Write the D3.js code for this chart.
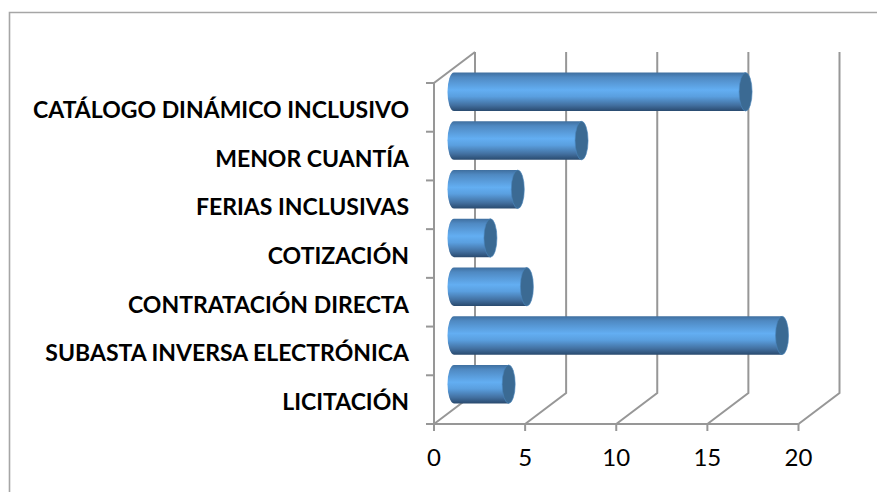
<!DOCTYPE html>
<html>
<head>
<meta charset="utf-8"/>
<style>
  html, body { margin:0; padding:0; background:#fff; }
  text { font-family: Lato, "Open Sans", sans-serif; fill:#000; }
</style>
<script src="https://d3js.org/d3.v7.min.js"></script>
</head>
<body>
<script>
var categories = ["CATÁLOGO DINÁMICO INCLUSIVO","MENOR CUANTÍA","FERIAS INCLUSIVAS","COTIZACIÓN","CONTRATACIÓN DIRECTA","SUBASTA INVERSA ELECTRÓNICA","LICITACIÓN"];
var values = [16, 7, 3.5, 2, 4, 18, 3];
var xTicks = [0, 5, 10, 15, 20];

var width = 877, height = 492;
var depthX = 41, depthY = -31; // shift from front plane to back wall
var gridColor = "#979797";

var svg = d3.select("body").append("svg")
  .attr("width", width)
  .attr("height", height)
  .style("display", "block");

var x = d3.scaleLinear().domain([0, 20]).range([434, 798.5]);
var y = d3.scaleBand().domain(categories).range([83, 424]).paddingInner(0.21).paddingOuter(0.105);
var band = d3.scaleBand().domain(categories).range([83, 424]);

// outer frame, open on the right
svg.append("path")
  .attr("d", "M9.5,492V12.5H877")
  .attr("fill", "none").attr("stroke", "#a6a6a6").attr("stroke-width", 1.6);

var walls = svg.append("g").attr("fill", "none").attr("stroke", gridColor).attr("stroke-width", 2);

// back wall gridlines and floor lines
xTicks.forEach(function(t){
  var px = x(t);
  walls.append("path")
    .attr("d", "M" + px + ",424L" + (px + depthX) + "," + (424 + depthY) + "V" + (83 + depthY));
  walls.append("line").attr("x1", px).attr("x2", px).attr("y1", 424).attr("y2", 431);
});

// left wall
walls.append("path").attr("d", "M434,424V83L" + (434 + depthX) + "," + (83 + depthY));
walls.append("line").attr("x1", 434).attr("x2", x(20)).attr("y1", 424).attr("y2", 424);

// category ticks
categories.forEach(function(c){
  walls.append("line").attr("x1", 426).attr("x2", 434).attr("y1", band(c)).attr("y2", band(c));
});
walls.append("line").attr("x1", 426).attr("x2", 434).attr("y1", 424).attr("y2", 424);

// cylinder shading
var defs = svg.append("defs");
var grad = defs.append("linearGradient").attr("id", "cyl").attr("x1", 0).attr("x2", 0).attr("y1", 0).attr("y2", 1);
[[0, "#3f6f9f"], [0.12, "#4f89c2"], [0.45, "#63aef2"], [0.62, "#5a9fdf"], [0.85, "#426f9f"], [1, "#294a6e"]].forEach(function(s){
  grad.append("stop").attr("offset", s[0]).attr("stop-color", s[1]);
});

var rx = 6.5, barShift = 20;
var bars = svg.append("g").selectAll("g").data(categories).enter().append("g");

bars.append("path")
  .attr("fill", "url(#cyl)")
  .attr("d", function(c, i){
    var h = y.bandwidth(), top = y(c) + depthY / 2;
    var x0 = x(0) + barShift, x1 = x(values[i]) + barShift;
    return "M" + x0 + "," + top + "H" + x1 + "V" + (top + h) + "H" + x0 +
      "A" + rx + "," + (h / 2) + " 0 0 1 " + x0 + "," + top + "Z";
  });

bars.append("ellipse")
  .attr("cx", function(c, i){ return x(values[i]) + barShift; })
  .attr("cy", function(c){ return y(c) + depthY / 2 + y.bandwidth() / 2; })
  .attr("rx", rx)
  .attr("ry", y.bandwidth() / 2)
  .attr("fill", "#3b6a93")
  .attr("stroke", "#4a86bd")
  .attr("stroke-width", 0.6);

// labels
svg.append("g").selectAll("text").data(categories).enter().append("text")
  .attr("x", 409)
  .attr("y", function(c){ return band(c) + band.bandwidth() / 2 + 10.5; })
  .attr("text-anchor", "end")
  .attr("font-size", 23)
  .attr("font-weight", 700)
  .text(function(d){ return d; });

svg.append("g").selectAll("text").data(xTicks).enter().append("text")
  .attr("x", function(t){ return x(t); })
  .attr("y", 466)
  .attr("text-anchor", "middle")
  .attr("font-size", 24)
  .text(function(d){ return d; });
</script>
</body>
</html>
